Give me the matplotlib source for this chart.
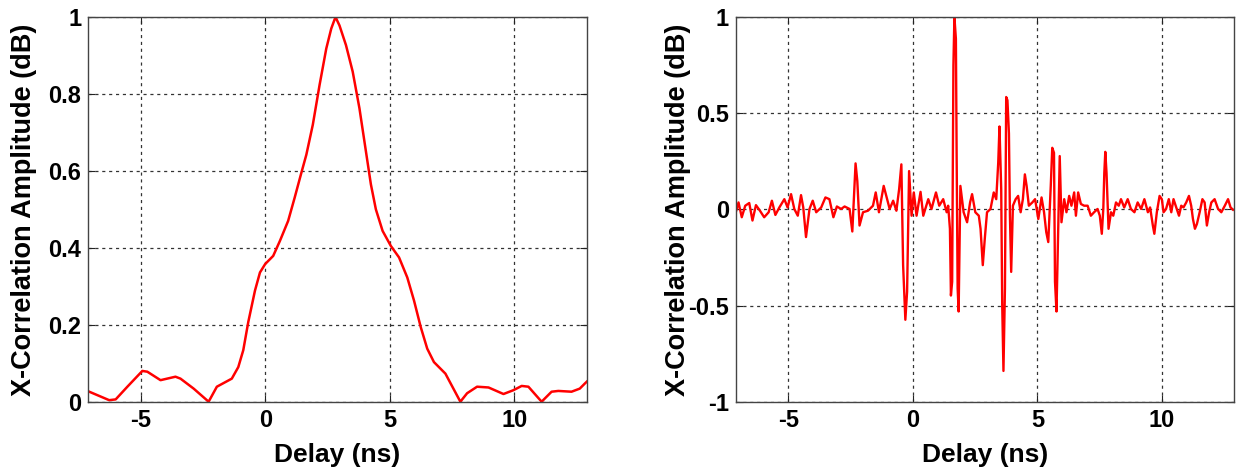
import numpy as np
import matplotlib
matplotlib.use("Agg")
import matplotlib.pyplot as plt

# Left panel: normalised cross-correlation envelope
delay_env = [-7.06, -6.26, -6.0, -5.53, -4.93, -4.73, -4.2, -3.6, -3.4, -2.87,
             -2.27, -1.94, -1.34, -1.08, -0.88, -0.68, -0.41, -0.21, 0.0, 0.32,
             0.59, 0.92, 1.18, 1.45, 1.65, 1.91, 2.18, 2.45, 2.65, 2.82,
             2.98, 3.24, 3.51, 3.78, 4.04, 4.24, 4.44, 4.71, 5.04, 5.37,
             5.7, 5.97, 6.24, 6.5, 6.77, 7.23, 7.83, 8.1, 8.5, 8.96,
             9.56, 9.96, 10.29, 10.56, 11.09, 11.49, 11.76, 12.29, 12.62, 12.82, 12.95]
amp_env = [0.026, 0.004, 0.006, 0.039, 0.080, 0.078, 0.056, 0.065, 0.060, 0.034,
           0.0, 0.039, 0.060, 0.090, 0.134, 0.207, 0.289, 0.336, 0.358, 0.379,
           0.418, 0.470, 0.530, 0.595, 0.642, 0.720, 0.823, 0.918, 0.970, 1.0,
           0.978, 0.927, 0.858, 0.763, 0.651, 0.565, 0.500, 0.444, 0.405, 0.375,
           0.323, 0.263, 0.194, 0.138, 0.103, 0.073, 0.0, 0.022, 0.039, 0.037,
           0.020, 0.030, 0.041, 0.039, 0.0, 0.026, 0.028, 0.026, 0.034, 0.047, 0.055]

# Right panel: raw cross-correlation
delay_raw = [-7.11, -7.0, -6.87, -6.73, -6.57, -6.44, -6.30, -6.14, -5.97, -5.79,
             -5.66, -5.52, -5.36, -5.16, -5.03, -4.89, -4.76, -4.62, -4.49, -4.40,
             -4.29, -4.15, -4.02, -3.88, -3.68, -3.51, -3.35, -3.19, -3.05, -2.88,
             -2.74, -2.54, -2.43, -2.30, -2.23, -2.14, -2.00, -1.80, -1.60, -1.49,
             -1.36, -1.17, -1.03, -0.93, -0.79, -0.66, -0.55, -0.46, -0.39, -0.30,
             -0.23, -0.15, -0.05, 0.04, 0.15, 0.31, 0.42, 0.62, 0.75, 0.93,
             1.06, 1.22, 1.36, 1.42, 1.49, 1.53, 1.58, 1.63, 1.67, 1.73,
             1.76, 1.80, 1.84, 1.91, 2.04, 2.18, 2.30, 2.38, 2.51, 2.65,
             2.72, 2.81, 2.89, 2.98, 3.12, 3.25, 3.35, 3.43, 3.48, 3.55,
             3.59, 3.64, 3.70, 3.75, 3.80, 3.86, 3.90, 3.95, 4.02, 4.13,
             4.23, 4.33, 4.42, 4.50, 4.57, 4.66, 4.80, 4.91, 5.04, 5.17,
             5.27, 5.36, 5.44, 5.54, 5.60, 5.67, 5.71, 5.77, 5.83, 5.90,
             5.97, 6.08, 6.17, 6.28, 6.37, 6.48, 6.55, 6.64, 6.75, 6.88,
             7.02, 7.15, 7.28, 7.42, 7.51, 7.59, 7.65, 7.69, 7.73, 7.78,
             7.86, 7.96, 8.05, 8.16, 8.27, 8.36, 8.49, 8.63, 8.76, 8.90,
             9.03, 9.17, 9.30, 9.44, 9.53, 9.64, 9.70, 9.80, 9.91, 10.0,
             10.07, 10.17, 10.28, 10.38, 10.47, 10.58, 10.69, 10.78, 10.87, 10.98,
             11.09, 11.18, 11.25, 11.33, 11.41, 11.52, 11.63, 11.72, 11.81, 11.90,
             11.99, 12.12, 12.26, 12.39, 12.53, 12.66, 12.76, 12.86]
amp_raw = [-0.015, 0.036, -0.041, 0.019, 0.033, -0.058, 0.022, -0.007, -0.041, -0.015,
           0.045, -0.029, 0.010, 0.053, 0.010, 0.079, 0.002, -0.033, 0.074, 0.010,
           -0.144, 0.002, 0.045, -0.015, 0.010, 0.062, 0.053, -0.041, 0.015, 0.002,
           0.015, 0.002, -0.115, 0.239, 0.148, -0.084, -0.015, -0.007, 0.019, 0.088,
           -0.015, 0.122, 0.053, 0.002, 0.045, -0.007, 0.105, 0.234, -0.290, -0.574,
           -0.428, 0.199, -0.033, 0.088, -0.033, 0.091, -0.033, 0.053, 0.002, 0.088,
           0.019, 0.053, -0.015, 0.019, -0.101, -0.448, -0.376, 0.749, 1.0, 0.887,
           0.277, -0.411, -0.531, 0.122, -0.015, -0.067, 0.036, 0.079, -0.015, -0.033,
           -0.101, -0.290, -0.153, -0.015, 0.002, 0.088, 0.053, 0.242, 0.431, 0.105,
           -0.497, -0.840, -0.411, 0.584, 0.567, 0.395, -0.033, -0.325, 0.019, 0.053,
           0.070, -0.015, 0.053, 0.182, 0.122, 0.019, 0.036, 0.053, -0.050, 0.062,
           -0.015, -0.119, -0.170, 0.122, 0.320, 0.294, -0.376, -0.531, -0.153, 0.277,
           -0.067, 0.053, -0.015, 0.070, 0.019, 0.088, -0.033, 0.088, 0.028, 0.019,
           0.019, -0.033, -0.015, 0.002, -0.033, -0.127, 0.002, 0.189, 0.299, 0.189,
           -0.101, -0.015, -0.033, 0.036, 0.019, 0.053, 0.010, 0.053, 0.002, -0.015,
           0.036, 0.002, 0.053, -0.015, 0.010, -0.084, -0.127, -0.015, 0.070, 0.053,
           -0.015, 0.002, 0.053, -0.015, 0.053, 0.010, -0.033, 0.019, 0.010, 0.036,
           0.070, 0.019, -0.050, -0.101, -0.076, -0.015, 0.053, 0.036, -0.084, -0.015,
           0.036, 0.053, 0.002, -0.015, 0.019, 0.053, 0.010, -0.002]

x_ticks = [-5, 0, 5, 10]
left_yticks = [0, 0.2, 0.4, 0.6, 0.8, 1]
left_yticklabels = ["0", "0.2", "0.4", "0.6", "0.8", "1"]
right_yticks = [-1, -0.5, 0, 0.5, 1]
right_yticklabels = ["-1", "-0.5", "0", "0.5", "1"]

plt.rcParams["font.family"] = ["Liberation Sans", "DejaVu Sans"]
plt.rcParams["font.weight"] = "bold"

fig = plt.figure(figsize=(12.36, 4.70), dpi=100)
ax1 = fig.add_axes([0.0714, 0.1453, 0.4033, 0.8185])
ax2 = fig.add_axes([0.5955, 0.1453, 0.4029, 0.8185])


def style_axes(ax, yticks, yticklabels, ylim, ylabel_x):
    ax.set_xlim(-7.1, 12.9)
    ax.set_ylim(*ylim)
    ax.set_xticks(x_ticks)
    ax.set_xticklabels([str(t) for t in x_ticks])
    ax.set_yticks(yticks)
    ax.set_yticklabels(yticklabels)
    ax.grid(True, color="#333333", linestyle=(0, (2.5, 3)), linewidth=0.9)
    ax.tick_params(direction="in", length=5, width=0.8, labelsize=17,
                   top=True, right=True, colors="#222222", pad=5)
    for lab in ax.get_xticklabels() + ax.get_yticklabels():
        lab.set_color("black")
    for sp in ax.spines.values():
        sp.set_color("#444444")
        sp.set_linewidth(1.0)
    ax.set_xlabel("Delay (ns)", fontsize=19, fontweight="bold")
    ax.set_ylabel("X-Correlation Amplitude (dB)", fontsize=19.5, fontweight="bold")
    ax.xaxis.set_label_coords(0.5, -0.108)
    ax.yaxis.set_label_coords(ylabel_x, 0.5)


ax1.plot(delay_env, amp_env, color="red", linewidth=1.8)
style_axes(ax1, left_yticks, left_yticklabels, (0, 1), -0.103)

ax2.plot(delay_raw, amp_raw, color="red", linewidth=1.7)
style_axes(ax2, right_yticks, right_yticklabels, (-1, 1), -0.09)

fig.savefig("out.png", dpi=100)
